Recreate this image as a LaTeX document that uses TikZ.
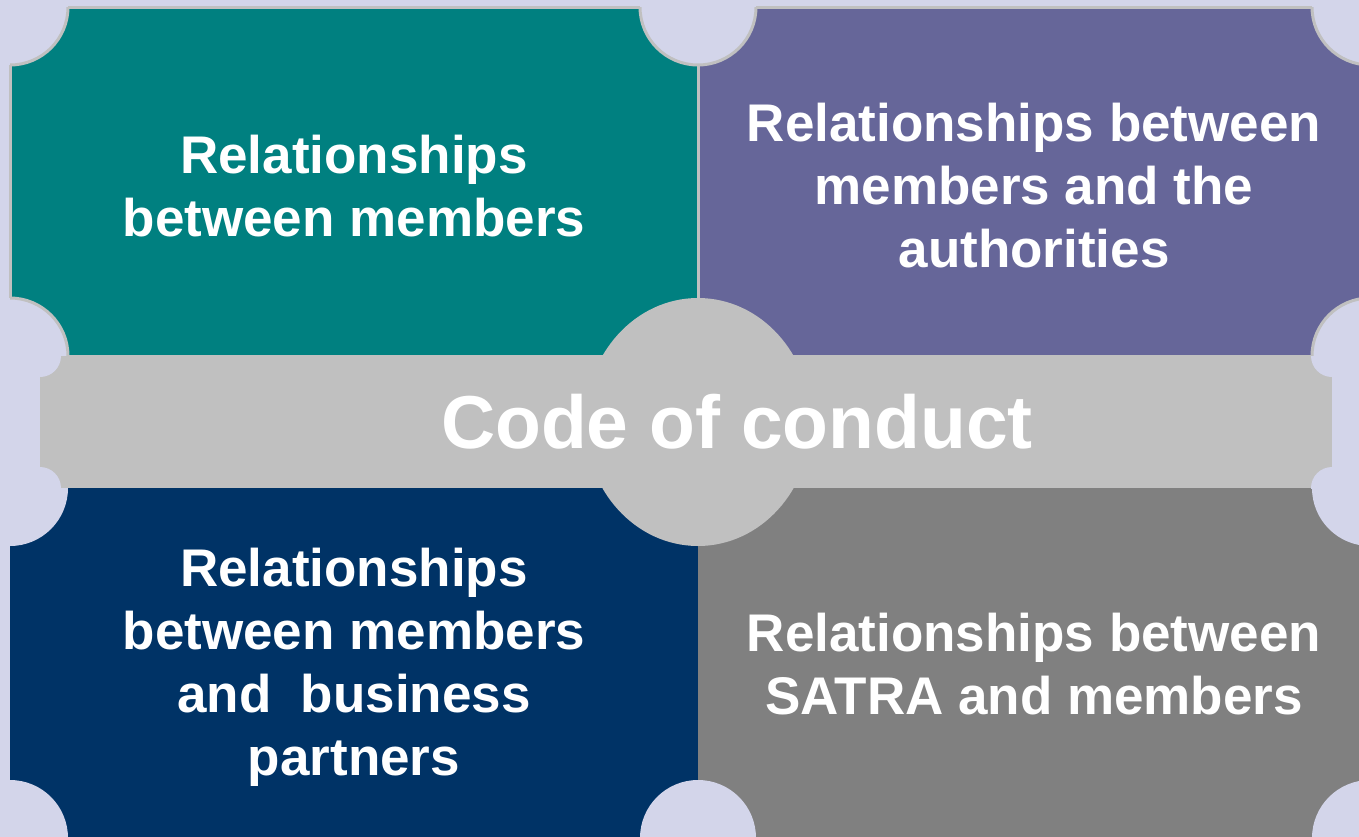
\documentclass[tikz,border=0pt]{standalone}
\usepackage{fontspec}
\setmainfont{Liberation Sans}
\usetikzlibrary{positioning}
\definecolor{bgcolor}{HTML}{D3D5EA}
\definecolor{tealcolor}{HTML}{008080}
\definecolor{purplecolor}{HTML}{666699}
\definecolor{navycolor}{HTML}{003366}
\definecolor{greycolor}{HTML}{808080}
\definecolor{bandcolor}{HTML}{C0C0C0}

\tikzset{
  boxtext/.style={text=white, align=center, font=\fontsize{53}{63}\selectfont\bfseries},
  codetext/.style={text=white, font=\fontsize{75}{85}\selectfont\bfseries},
  outline/.style={draw=bandcolor, line width=3pt},
}

\begin{document}
\begin{tikzpicture}[x=1pt,y=-1pt]
    \useasboundingbox (0,0) rectangle (1359,836);
    \fill[bgcolor] (0,0) rectangle (1359,836);

    % top boxes have an outline, bottom ones do not
    \filldraw[fill=tealcolor, outline] (10,7) rectangle (698,356);
    \filldraw[fill=purplecolor, outline] (698,7) rectangle (1370,356);
    \fill[navycolor] (10,488) rectangle (698,838);
    \fill[greycolor] (698,488) rectangle (1370,838);

    % round notches at the corners
    \foreach \x/\y in {10/7, 698/7, 1370/7, 10/356, 1370/356, 10/488, 1370/488, 10/838, 698/838, 1370/838}
        \fill[bgcolor] (\x,\y) circle (58pt);
    \begin{scope}
        \clip (10,7) rectangle (1370,356);
        \foreach \x/\y in {10/7, 698/7, 1370/7, 10/356, 1370/356}
            \draw[outline] (\x,\y) circle (58pt);
    \end{scope}

    % the band across the middle
    \fill[bandcolor] (40,356) rectangle (1332,488);
    \fill[bandcolor] (698,422) ellipse [x radius=113pt, y radius=124pt];
    \begin{scope}
        \clip (40,356) rectangle (1332,488);
        \foreach \x/\y in {40/356, 1332/356, 40/488, 1332/488}
            \fill[bgcolor] (\x,\y) circle (21pt);
    \end{scope}

    \node[boxtext] (members) at (354,186) {Relationships\\between members};
    \node[boxtext] (authorities) at (1034,186) {Relationships between\\members and the\\authorities};
    \node[boxtext] (partners) at (354,667) {Relationships\\between members\\and~ business\\partners};
    \node[boxtext] (satra) at (1034,664) {Relationships between\\SATRA and members};
    \node[codetext] (code) at (737,422) {Code of conduct};
\end{tikzpicture}
\end{document}
